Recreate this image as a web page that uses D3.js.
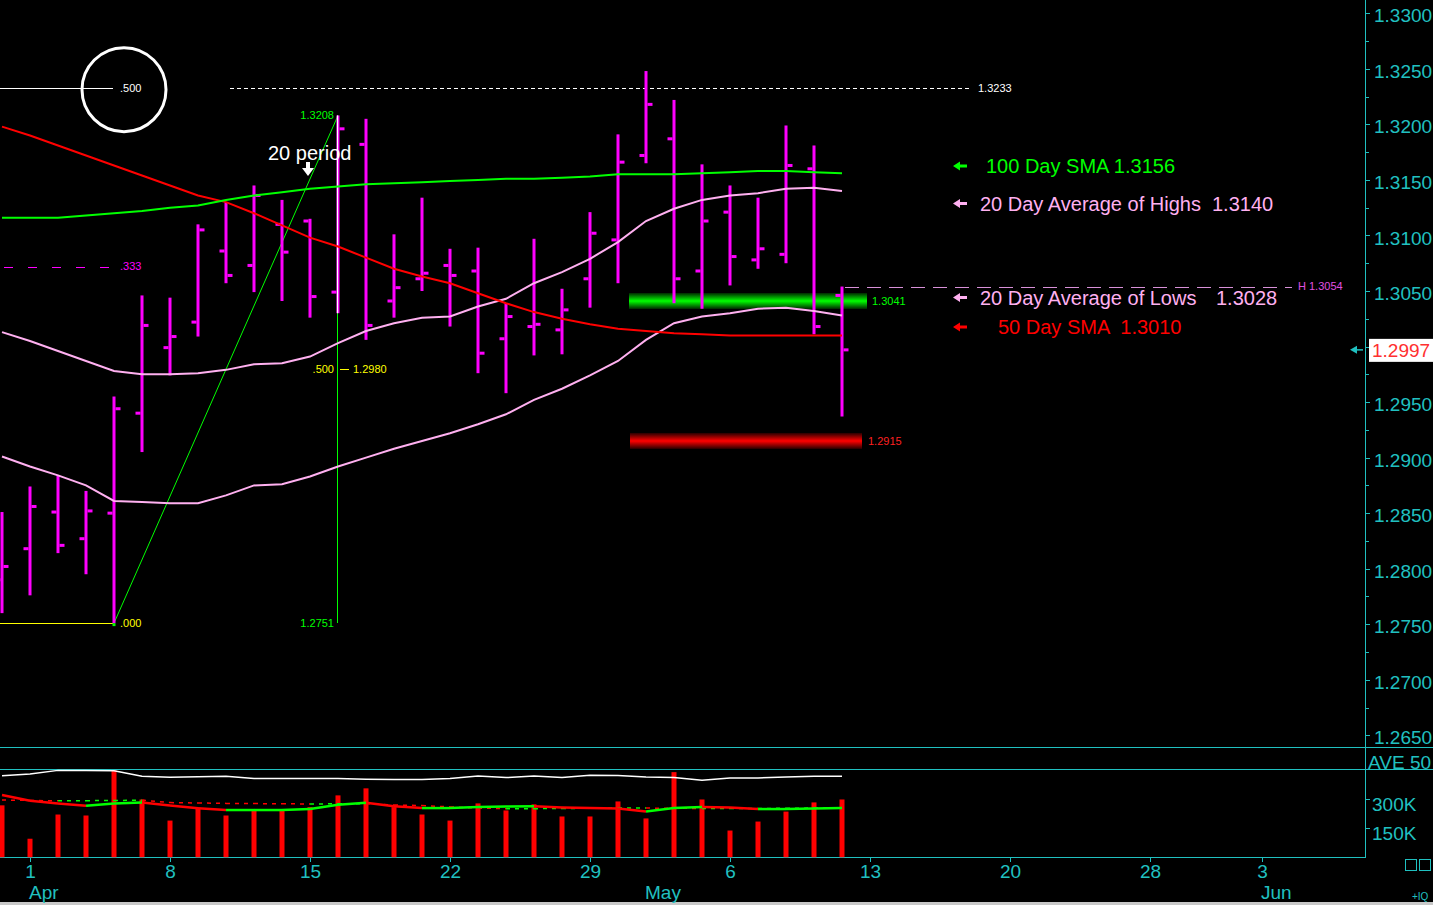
<!DOCTYPE html>
<html>
<head>
<meta charset="utf-8">
<script src="https://cdn.jsdelivr.net/npm/d3@7"></script>
<style>
  html, body { margin: 0; padding: 0; background: #000; overflow: hidden; }
  svg { display: block; font-family: "Liberation Sans", Arial, sans-serif; }
  .crisp { shape-rendering: crispEdges; }
</style>
</head>
<body>
<svg id="chart" width="1433" height="905"></svg>
<script>
// ---- data (daily Euro FX bars, 2013) ----
const barDates = ['2013-03-28','2013-04-01','2013-04-02','2013-04-03','2013-04-04','2013-04-05',
  '2013-04-08','2013-04-09','2013-04-10','2013-04-11','2013-04-12','2013-04-15','2013-04-16',
  '2013-04-17','2013-04-18','2013-04-19','2013-04-22','2013-04-23','2013-04-24','2013-04-25',
  '2013-04-26','2013-04-29','2013-04-30','2013-05-01','2013-05-02','2013-05-03','2013-05-06',
  '2013-05-07','2013-05-08','2013-05-09','2013-05-10'];
const opens  = [1.2790,1.2818,1.2851,1.2827,1.2850,1.2940,1.2999,1.3022,1.3086,1.3073,1.3110,1.3113,1.3049,1.3182,1.3041,1.3061,1.3073,1.3068,1.3007,1.3018,1.3015,1.3061,1.3096,1.3172,1.3187,1.3068,1.3121,1.3078,1.3083,1.3160,1.3046];
const highs  = [1.2851,1.2874,1.2884,1.2870,1.2955,1.3046,1.3044,1.3110,1.3130,1.3145,1.3132,1.3115,1.3208,1.3205,1.3101,1.3134,1.3088,1.3089,1.3039,1.3097,1.3052,1.3121,1.3191,1.3248,1.3222,1.3164,1.3145,1.3134,1.3199,1.3181,1.3054];
const lows   = [1.2760,1.2776,1.2814,1.2795,1.2751,1.2905,1.2974,1.3009,1.3057,1.3049,1.3041,1.3026,1.3030,1.3006,1.3026,1.3050,1.3018,1.2976,1.2958,1.2992,1.2993,1.3035,1.3057,1.3165,1.3039,1.3034,1.3055,1.3070,1.3075,1.3011,1.2937];
const closes = [1.2802,1.2856,1.2821,1.2852,1.2944,1.3019,1.3009,1.3105,1.3064,1.3136,1.3085,1.3045,1.3196,1.3019,1.3053,1.3066,1.3064,1.2994,1.3027,1.3020,1.3033,1.3102,1.3166,1.3218,1.3061,1.3113,1.3081,1.3088,1.3163,1.3018,1.2997];

const sma100   = [1.3116,1.3116,1.3116,1.3118,1.3120,1.3122,1.3125,1.3127,1.3132,1.3136,1.3139,1.3142,1.3144,1.3146,1.3147,1.3148,1.3149,1.3150,1.3151,1.3151,1.3152,1.3153,1.3155,1.3155,1.3155,1.3156,1.3157,1.3158,1.3158,1.3157,1.3156];
const sma50    = [1.3198,1.3190,1.3181,1.3172,1.3163,1.3154,1.3145,1.3136,1.3130,1.3120,1.3109,1.3098,1.3090,1.3080,1.3070,1.3063,1.3057,1.3048,1.3039,1.3031,1.3025,1.3020,1.3016,1.3014,1.3012,1.3011,1.3010,1.3010,1.3010,1.3010,1.3010];
const avgHighs = [1.3013,1.3005,1.2996,1.2987,1.2978,1.2975,1.2975,1.2976,1.2979,1.2984,1.2985,1.2991,1.3003,1.3014,1.3021,1.3026,1.3027,1.3036,1.3043,1.3057,1.3067,1.3079,1.3094,1.3113,1.3124,1.3132,1.3136,1.3138,1.3142,1.3143,1.3140];
const avgLows  = [1.2901,1.2892,1.2884,1.2875,1.2861,1.2860,1.2859,1.2859,1.2866,1.2875,1.2876,1.2883,1.2892,1.2900,1.2908,1.2915,1.2922,1.2930,1.2939,1.2952,1.2962,1.2974,1.2987,1.3006,1.3021,1.3027,1.3030,1.3034,1.3035,1.3032,1.3028];

// volume panel, thousands of contracts
const volumes  = [266,95,219,214,446,296,188,248,214,240,240,257,317,353,257,219,188,276,240,271,209,209,286,199,436,296,137,183,234,281,296];
const volAvg   = [319,290,276,264,276,280,265,251,242,242,242,247,269,279,261,252,252,257,260,261,255,252,250,234,252,257,255,247,247,250,252];
const volAvg2  = [293,291,289,290,291,292,280,278,276,275,274,273,274,275,268,265,258,252,249,249,250,251,252,252,251,250,250,250,251,252,253];
const volUpper = [417,426,445,445,443,415,410,412,415,404,404,403,403,399,398,398,403,416,408,416,408,420,419,411,408,394,406,406,411,415,415];

// axis ticks
const priceTicks = [1.2650,1.2700,1.2750,1.2800,1.2850,1.2900,1.2950,1.3000,1.3050,1.3100,1.3150,1.3200,1.3250,1.3300];
const priceMinor = [1.2675,1.2725,1.2775,1.2825,1.2875,1.2925,1.2975,1.3025,1.3075,1.3125,1.3175,1.3225,1.3275];
const volTicks = [150, 300];
const dateTicks = ['2013-04-01','2013-04-08','2013-04-15','2013-04-22','2013-04-29','2013-05-06','2013-05-13','2013-05-20','2013-05-28','2013-06-03'];
const monthNames = ['Apr', 'May', 'Jun'];
const monthStarts = ['2013-04-01', '2013-05-01', '2013-06-03'];
const holidays = ['2013-03-29', '2013-05-27'];

// drawing tools on the chart
const fibLabels = ['.000', '.333', '.500'];
const fibPrices = [1.2751, 1.3072, 1.3233];
const swingLow = 1.2751, swingHigh = 1.3208, swingMid = 1.2980;
const supportBand = 1.3041, lowerBand = 1.2915, lastHigh = 1.3054, lastPrice = 1.2997;

const legendNames  = ['100 Day SMA', '20 Day Average of Highs', '20 Day Average of Lows', '50 Day SMA'];
const legendValues = ['1.3156', '1.3140', '1.3028', '1.3010'];

// ---- layout ----
const W = 1433, H = 905, axisX = 1365;
const CYAN = '#20c0c0', MAGENTA = '#ff00ff', PINK = '#ffb0f0', GREEN = '#00ff00', RED = '#ff0000';

const fmt = d3.timeFormat('%Y-%m-%d');
const calendar = d3.timeDay.range(new Date(2013, 2, 28), new Date(2013, 5, 7))
  .filter(d => d.getDay() > 0 && d.getDay() < 6)
  .map(fmt)
  .filter(d => !holidays.includes(d));

const x = d3.scalePoint().domain(calendar).range([2, 1346]);
const y = d3.scaleLinear().domain([1.265, 1.33]).range([735.3, 13.3]);
const yv = d3.scaleLinear().domain([0, 450]).range([857.3, 769.4]);
const py = p => Math.round(y(p)) + 0.5;   // pixel-aligned y for 1px rules

const svg = d3.select('#chart');
svg.append('rect').attr('width', W).attr('height', H).attr('fill', '#000');

const defs = svg.append('defs');
function bandGradient(id, dark, bright) {
  const g = defs.append('linearGradient').attr('id', id)
    .attr('x1', 0).attr('y1', 0).attr('x2', 0).attr('y2', 1);
  g.append('stop').attr('offset', '0%').attr('stop-color', dark);
  g.append('stop').attr('offset', '50%').attr('stop-color', bright);
  g.append('stop').attr('offset', '100%').attr('stop-color', dark);
}
bandGradient('gGreen', '#002800', '#00ff00');
bandGradient('gRed', '#280000', '#ff0000');

// panel frame
const frame = svg.append('g').attr('class', 'crisp').attr('stroke', CYAN).attr('stroke-width', 1);
frame.append('line').attr('x1', 0).attr('x2', W).attr('y1', 747.5).attr('y2', 747.5);
frame.append('line').attr('x1', 0).attr('x2', W).attr('y1', 769.5).attr('y2', 769.5);
frame.append('line').attr('x1', 0).attr('x2', axisX).attr('y1', 857.5).attr('y2', 857.5);
frame.append('line').attr('x1', axisX + 0.5).attr('x2', axisX + 0.5).attr('y1', 0).attr('y2', 857.5);
svg.append('rect').attr('x', 0).attr('y', 902).attr('width', W).attr('height', 3).attr('fill', '#c8c8c8');

// support / resistance bands
const xLast = x(barDates[barDates.length - 1]);
const xBand = x('2013-04-30') + 11;
svg.append('rect').attr('x', xBand).attr('width', xLast + 25 - xBand)
  .attr('y', y(supportBand) - 8).attr('height', 16).attr('fill', 'url(#gGreen)');
svg.append('rect').attr('x', xBand + 1).attr('width', xLast + 20 - xBand - 1)
  .attr('y', y(lowerBand) - 8).attr('height', 16).attr('fill', 'url(#gRed)');

// fib levels on the left
const fibColors = ['#ffff00', MAGENTA, '#ffffff'];
const fibDash = [null, '9,15', null];
const xFib = x('2013-04-04');
fibPrices.forEach((p, i) => {
  svg.append('line').attr('class', 'crisp')
    .attr('x1', i === 1 ? 4 : 0).attr('x2', xFib - 1)
    .attr('y1', py(p)).attr('y2', py(p))
    .attr('stroke', fibColors[i]).attr('stroke-width', 1)
    .attr('stroke-dasharray', fibDash[i]);
  svg.append('text').attr('x', xFib + 6).attr('y', y(p)).attr('dy', '0.35em')
    .attr('fill', fibColors[i]).attr('font-size', 11).text(fibLabels[i]);
});
svg.append('circle').attr('cx', xFib + 10).attr('cy', y(fibPrices[2]) + 2).attr('r', 42)
  .attr('fill', 'none').attr('stroke', '#fff').attr('stroke-width', 3);

// 1.3233 dotted line
svg.append('line').attr('class', 'crisp')
  .attr('x1', x('2013-04-10') + 4).attr('x2', x('2013-05-16') + 16)
  .attr('y1', py(fibPrices[2])).attr('y2', py(fibPrices[2]))
  .attr('stroke', '#fff').attr('stroke-dasharray', '4,3');
svg.append('text').attr('x', x('2013-05-16') + 24).attr('y', y(fibPrices[2])).attr('dy', '0.35em')
  .attr('fill', '#fff').attr('font-size', 11).text('1.3233');

// swing retracement (Apr 4 low -> Apr 16 high)
const xHigh = x('2013-04-16');
svg.append('line').attr('x1', xFib).attr('y1', y(swingLow)).attr('x2', xHigh).attr('y2', y(swingHigh))
  .attr('stroke', GREEN).attr('stroke-width', 1);
svg.append('line').attr('class', 'crisp')
  .attr('x1', xHigh - 0.5).attr('x2', xHigh - 0.5).attr('y1', y(swingHigh)).attr('y2', y(swingLow))
  .attr('stroke', GREEN).attr('stroke-width', 1);
svg.append('rect').attr('x', xFib - 1.5).attr('y', y(swingLow)).attr('width', 3).attr('height', 3).attr('fill', GREEN);
svg.append('text').attr('x', xHigh - 4).attr('y', y(swingHigh)).attr('dy', '0.35em').attr('text-anchor', 'end')
  .attr('fill', GREEN).attr('font-size', 11).text(swingHigh.toFixed(4));
svg.append('text').attr('x', xHigh - 4).attr('y', y(swingLow)).attr('dy', '0.35em').attr('text-anchor', 'end')
  .attr('fill', GREEN).attr('font-size', 11).text(swingLow.toFixed(4));
svg.append('text').attr('x', xHigh - 4).attr('y', y(swingMid)).attr('dy', '0.35em').attr('text-anchor', 'end')
  .attr('fill', '#ffff00').attr('font-size', 11).text('.500');
svg.append('line').attr('class', 'crisp').attr('x1', xHigh + 2).attr('x2', xHigh + 11)
  .attr('y1', py(swingMid)).attr('y2', py(swingMid)).attr('stroke', '#ffff00');
svg.append('text').attr('x', xHigh + 15).attr('y', y(swingMid)).attr('dy', '0.35em')
  .attr('fill', '#ffff00').attr('font-size', 11).text(swingMid.toFixed(4));

// ---- price bars ----
const data = barDates.map((d, i) => ({
  date: d, o: opens[i], h: highs[i], l: lows[i], c: closes[i], v: volumes[i]
}));
const barG = svg.append('g').attr('fill', MAGENTA);
barG.selectAll('.hl').data(data).join('rect').attr('class', 'hl')
  .attr('x', d => x(d.date) - 1.5).attr('width', 3)
  .attr('y', d => y(d.h)).attr('height', d => y(d.l) - y(d.h));
barG.selectAll('.op').data(data).join('rect').attr('class', 'op')
  .attr('x', d => x(d.date) - 6.5).attr('width', 5)
  .attr('y', d => y(d.o) - 1.5).attr('height', 3);
barG.selectAll('.cl').data(data).join('rect').attr('class', 'cl')
  .attr('x', d => x(d.date) + 1.5).attr('width', 5)
  .attr('y', d => y(d.c) - 1.5).attr('height', 3);

// highlighted swing-high bar
const hb = data.find(d => d.date === '2013-04-16');
svg.append('line').attr('x1', xHigh - 0.5).attr('x2', xHigh - 0.5).attr('y1', y(hb.h)).attr('y2', y(hb.l))
  .attr('stroke', '#fff').attr('stroke-width', 1.2);

// moving averages
const priceLine = d3.line().x((d, i) => x(barDates[i])).y(d => y(d));
[[avgLows, PINK], [avgHighs, PINK], [sma50, RED], [sma100, GREEN]].forEach(([s, col]) => {
  svg.append('path').datum(s).attr('d', priceLine)
    .attr('fill', 'none').attr('stroke', col).attr('stroke-width', 2);
});

// last-bar high marker
svg.append('line').attr('class', 'crisp').attr('x1', xLast + 3).attr('x2', 1292)
  .attr('y1', py(lastHigh)).attr('y2', py(lastHigh))
  .attr('stroke', '#d890d8').attr('stroke-dasharray', '14,8');
svg.append('text').attr('x', 1298).attr('y', y(lastHigh)).attr('dy', '0.35em')
  .attr('fill', '#e050e0').attr('font-size', 11).text('H ' + lastHigh.toFixed(4));

svg.append('text').attr('x', xLast + 30).attr('y', y(supportBand)).attr('dy', '0.35em')
  .attr('fill', GREEN).attr('font-size', 11).text(supportBand.toFixed(4));
svg.append('text').attr('x', xLast + 26).attr('y', y(lowerBand)).attr('dy', '0.35em')
  .attr('fill', '#ff2020').attr('font-size', 11).text(lowerBand.toFixed(4));

// "20 period" note
svg.append('text').attr('x', 268).attr('y', 160).attr('fill', '#fff').attr('font-size', 20).text('20 period');
svg.append('path').attr('d', 'M306,162H310V168H314L308,176L302,168H306Z').attr('fill', '#fff');

// ---- legend ----
const legendColors = [GREEN, PINK, PINK, RED];
const legendY = [166, 203.5, 297.5, 327];
const legendX = [986, 980, 980, 998];
const valueX = [null, null, 1216, null];
legendNames.forEach((name, i) => {
  const yy = legendY[i];
  svg.append('path')
    .attr('d', `M953,${yy}L960,${yy - 4.5}V${yy - 1.5}H967V${yy + 1.5}H960V${yy + 4.5}Z`)
    .attr('fill', legendColors[i]);
  const t = svg.append('text').attr('x', legendX[i]).attr('y', yy).attr('dy', '0.36em')
    .attr('fill', legendColors[i]).attr('font-size', 20).style('white-space', 'pre');
  if (valueX[i]) {
    t.text(name);
    svg.append('text').attr('x', valueX[i]).attr('y', yy).attr('dy', '0.36em')
      .attr('fill', legendColors[i]).attr('font-size', 20).text(legendValues[i]);
  } else {
    t.text(name + (i === 0 ? ' ' : '  ') + legendValues[i]);
  }
});

// ---- volume panel ----
svg.append('g').attr('fill', RED).selectAll('rect').data(data).join('rect')
  .attr('x', d => x(d.date) - 2.5).attr('width', 5)
  .attr('y', d => yv(d.v)).attr('height', d => yv(0) - yv(d.v));

const volLine = d3.line().x((d, i) => x(barDates[i])).y(d => yv(d));
svg.append('path').datum(volUpper).attr('d', volLine)
  .attr('fill', 'none').attr('stroke', '#fff').attr('stroke-width', 1.5);

function directionalLine(series, width, dash) {
  const g = svg.append('g');
  for (let i = 1; i < series.length; i++) {
    g.append('line')
      .attr('x1', x(barDates[i - 1])).attr('y1', yv(series[i - 1]))
      .attr('x2', x(barDates[i])).attr('y2', yv(series[i]))
      .attr('stroke', series[i] >= series[i - 1] ? GREEN : RED)
      .attr('stroke-width', width)
      .attr('stroke-dasharray', dash);
  }
}
directionalLine(volAvg2, 1.5, '4,5');
directionalLine(volAvg, 2.5, null);

// ---- axes ----
function styleAxis(g, size) {
  g.select('.domain').remove();
  g.selectAll('line').attr('stroke', CYAN).attr('shape-rendering', 'crispEdges');
  g.selectAll('text').attr('fill', CYAN).attr('font-size', size)
    .attr('font-family', '"Liberation Sans", Arial, sans-serif');
}

const yAxis = svg.append('g').attr('transform', `translate(${axisX + 1},0)`)
  .call(d3.axisRight(y).tickValues(priceTicks).tickFormat(d3.format('.4f')).tickSize(4).tickPadding(4))
  .call(g => styleAxis(g, 19));
yAxis.selectAll('text').attr('dy', '0.45em');
svg.append('g').attr('transform', `translate(${axisX + 1},0)`)
  .call(d3.axisRight(y).tickValues(priceMinor).tickFormat('').tickSize(3))
  .call(g => styleAxis(g, 19));

const vAxis = svg.append('g').attr('transform', `translate(${axisX + 1},0)`)
  .call(d3.axisRight(yv).tickValues(volTicks).tickFormat(d => d + 'K').tickSize(4).tickPadding(2))
  .call(g => styleAxis(g, 19));
vAxis.selectAll('text').attr('dy', '0.62em');
svg.append('text').attr('x', 1368).attr('y', 762).attr('dy', '0.36em').attr('fill', CYAN)
  .attr('font-size', 19).text('AVE 50');

svg.append('g').attr('transform', 'translate(0,857.5)')
  .call(d3.axisBottom(x).tickValues(dateTicks).tickFormat(d => String(+d.slice(8)))
    .tickSize(4).tickPadding(3).tickSizeOuter(0))
  .call(g => styleAxis(g, 19));

svg.append('g').selectAll('text').data(monthNames).join('text')
  .attr('x', (d, i) => x(monthStarts[i]) - 1).attr('y', 892).attr('dy', '0.36em')
  .attr('fill', CYAN).attr('font-size', 19).text(d => d);

// last price marker
svg.append('rect').attr('x', 1369).attr('y', y(lastPrice) - 11).attr('width', 64).attr('height', 23).attr('fill', '#fff');
svg.append('text').attr('x', 1372).attr('y', y(lastPrice)).attr('dy', '0.37em')
  .attr('fill', '#ff3030').attr('font-size', 19).text(lastPrice.toFixed(4));
svg.append('path').attr('d', `M1350,${y(lastPrice)}L1357,${y(lastPrice) - 4}V${y(lastPrice) + 4}Z`).attr('fill', CYAN);
svg.append('line').attr('x1', 1354).attr('x2', 1363).attr('y1', y(lastPrice)).attr('y2', y(lastPrice))
  .attr('stroke', CYAN).attr('stroke-width', 1.5);

// corner widgets
svg.append('rect').attr('class', 'crisp').attr('x', 1405.5).attr('y', 859.5).attr('width', 11).attr('height', 11)
  .attr('fill', 'none').attr('stroke', CYAN);
svg.append('rect').attr('class', 'crisp').attr('x', 1419.5).attr('y', 859.5).attr('width', 11).attr('height', 11)
  .attr('fill', 'none').attr('stroke', CYAN);
svg.append('text').attr('x', 1412).attr('y', 900).attr('fill', CYAN).attr('font-size', 10).text('+IQ');
</script>
</body>
</html>
